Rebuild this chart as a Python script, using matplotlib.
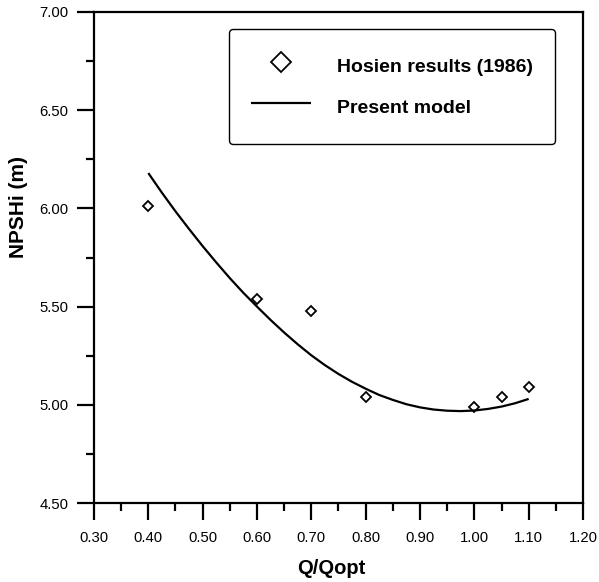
import matplotlib
matplotlib.use("Agg")
import matplotlib.pyplot as plt
from matplotlib.ticker import MultipleLocator, FormatStrFormatter

plt.rcParams['font.family'] = ['Liberation Sans', 'DejaVu Sans']

# Experimental data (Hosien, 1986)
q_exp = [0.40, 0.60, 0.70, 0.80, 1.00, 1.05, 1.10]
npsh_exp = [6.01, 5.54, 5.48, 5.04, 4.99, 5.04, 5.09]

# Present model curve
q_model = [0.400, 0.425, 0.450, 0.475, 0.500, 0.525, 0.550, 0.575, 0.600,
           0.625, 0.650, 0.675, 0.700, 0.725, 0.750, 0.775, 0.800, 0.825,
           0.850, 0.875, 0.900, 0.925, 0.950, 0.975, 1.000, 1.025, 1.050,
           1.075, 1.100]
npsh_model = [6.180, 6.080, 5.985, 5.895, 5.808, 5.725, 5.645, 5.570, 5.500,
              5.432, 5.368, 5.308, 5.252, 5.202, 5.157, 5.117, 5.082, 5.050,
              5.025, 5.003, 4.987, 4.976, 4.970, 4.968, 4.971, 4.979, 4.991,
              5.008, 5.030]

fig = plt.figure(figsize=(5.99, 5.82), dpi=100)
ax = fig.add_axes([0.1569, 0.1357, 0.8164, 0.8437])

ax.plot(q_exp, npsh_exp, linestyle='none', marker='D', markersize=5.0,
        markerfacecolor='white', markeredgecolor='black', markeredgewidth=1.3,
        label='Hosien results (1986)')
ax.plot(q_model, npsh_model, color='black', linewidth=1.6,
        solid_capstyle='butt', label='Present model')

ax.set_xlim(0.30, 1.20)
ax.set_ylim(4.50, 7.00)
ax.xaxis.set_major_locator(MultipleLocator(0.10))
ax.xaxis.set_minor_locator(MultipleLocator(0.05))
ax.yaxis.set_major_locator(MultipleLocator(0.50))
ax.yaxis.set_minor_locator(MultipleLocator(0.25))
ax.xaxis.set_major_formatter(FormatStrFormatter('%.2f'))
ax.yaxis.set_major_formatter(FormatStrFormatter('%.2f'))

for s in ax.spines.values():
    s.set_linewidth(1.6)
ax.tick_params(which='major', direction='out', length=12.2, width=1.6,
               labelsize=10.7, top=False, right=False)
ax.tick_params(which='minor', direction='out', length=5.8, width=1.6,
               top=False, right=False)
ax.tick_params(axis='x', which='major', pad=8)
ax.tick_params(axis='y', which='major', pad=6)

ax.set_xlabel('Q/Qopt', fontsize=14.5, fontweight='bold')
ax.set_ylabel('NPSHi (m)', fontsize=15, fontweight='bold')
ax.xaxis.set_label_coords(0.485, -0.113)
ax.yaxis.set_label_coords(-0.135, 0.603)

leg = ax.legend(loc='upper left', bbox_to_anchor=(0.276, 0.965),
                borderaxespad=0, prop={'weight': 'bold', 'size': 14},
                handlelength=3.09, handletextpad=1.34, borderpad=1.13,
                handleheight=2.0, labelspacing=0.57, markerscale=2.0,
                fancybox=True, framealpha=1, edgecolor='black')
leg.get_frame().set_linewidth(1.0)

fig.savefig('out.png', dpi=100)
